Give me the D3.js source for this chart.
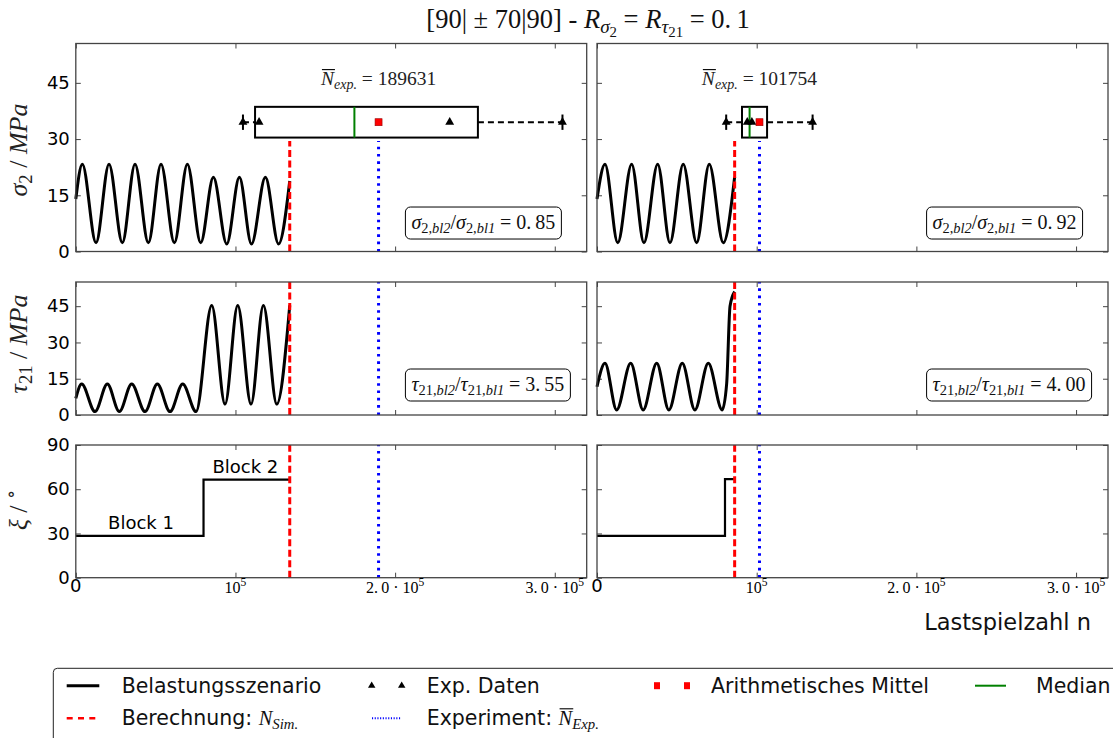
<html>
<head>
	<meta charset="utf-8">
	<style>
		body { margin: 0; background: #fff; }
		svg { display: block; }
		text { white-space: pre; }
		.tick line { stroke: #444; stroke-width: 1; }
		.frame { fill: none; stroke: #444; stroke-width: 1.3; }
	</style>
</head>
<body>
	<script src="https://d3js.org/d3.v7.min.js" charset="utf-8"></script>
	<script>
	// axis ticks
	var nTicks = [0, 1e5, 2e5, 3e5];
	var sigmaTicks = [0, 15, 30, 45];
	var tauTicks = [0, 15, 30, 45];
	var xiTicks = [0, 30, 60, 90];

	// left column: load scenario [n, MPa] (start, peaks, troughs, end)
	var sigmaLeft = [[0, 14], [4090, 23.3], [12660, 2.35], [20800, 23.3], [29150, 2.35], [37090, 23.3], [45440, 2.35],
		[53380, 23.3], [61730, 2.35], [69880, 23.3], [78240, 2.35], [86170, 19.8], [94530, 2.0], [102460, 19.8],
		[110030, 2.0], [118750, 19.8], [127000, 2.0], [134000, 18.8]];
	var tauLeft = [[0, 6.9], [3680, 12.8], [12030, 1.4], [19760, 12.8], [27270, 1.4], [35010, 12.8], [43360, 1.4],
		[51080, 12.8], [59020, 1.4], [66960, 12.8], [75310, 1.4], [85130, 45.3], [93480, 4.5], [101420, 45.3],
		[109770, 4.5], [117500, 45.3], [125900, 4.5], [134000, 45.3]];
	var xiLeft = [[0, 28.3], [80000, 66.5], [134000, 66.5]];
	var expLeft = [104700, 114800, 234200, 304824];

	// right column
	var sigmaRight = [[0, 14], [5000, 23.3], [13000, 2.35], [21700, 23.3], [29400, 2.35], [38000, 23.3], [45700, 2.35],
		[54000, 23.3], [62400, 2.35], [70300, 23.3], [79100, 2.35], [86200, 19.9]];
	var tauRight = [[0, 11.7], [5000, 21.4], [12300, 2.1], [21100, 21.4], [28900, 2.1], [37400, 21.4], [45000, 2.1],
		[53400, 21.4], [61300, 2.1], [69700, 21.4], [78400, 2.1], [81200, 13], [83300, 45], [86200, 51]];
	var xiRight = [[0, 28.3], [80150, 66.8], [86200, 66.8]];
	var expRight = [80900, 94100, 97000, 135016];

	var nSim = [134000, 86200];
	var nExpMean = [189631, 101754];
	var sigmaRatio = ["0.85", "0.92"];
	var tauRatio = ["3.55", "4.00"];

	var cols = [
		{sigma: sigmaLeft, tau: tauLeft, xi: xiLeft, exp: expLeft, nSim: nSim[0], nExp: nExpMean[0], sr: sigmaRatio[0], tr: tauRatio[0]},
		{sigma: sigmaRight, tau: tauRight, xi: xiRight, exp: expRight, nSim: nSim[1], nExp: nExpMean[1], sr: sigmaRatio[1], tr: tauRatio[1]}
	];

	var SERIF = "'Liberation Serif', 'DejaVu Serif', serif";
	var SANS = "'DejaVu Sans', sans-serif";

	var svg = d3.select("body").append("svg")
		.attr("width", 1113)
		.attr("height", 738);

	// text with sub/superscripts; parts: [string, "i"|"r", level(0, 1 sub, 2 subsub, -1 sup), overline]
	function mathText(g, parts, size, family) {
		var t = g.append("text").style("font-family", family || SERIF).style("font-size", size + "px");
		var prev = 0, idx = 0, bars = [];
		parts.forEach(function (p) {
			var lv = p[2] || 0;
			var fs = lv === 0 ? size : (Math.abs(lv) === 1 ? size * 0.72 : size * 0.56);
			var off = lv === 0 ? 0 : lv === 1 ? size * 0.2 : lv === 2 ? size * 0.34 : -size * 0.4;
			t.append("tspan")
				.attr("dy", off - prev)
				.style("font-size", fs + "px")
				.style("font-style", p[1] === "i" ? "italic" : "normal")
				.text(p[0]);
			if (p[3]) bars.push(idx);
			idx += p[0].length;
			prev = off;
		});
		t.bars = bars;
		return t;
	}
	function overline(g, t) {
		t.bars.forEach(function (i) {
			var e = t.node().getExtentOfChar(i);
			g.append("line")
				.attr("x1", e.x + 1).attr("x2", e.x + e.width + 1)
				.attr("y1", e.y + 1.5).attr("y2", e.y + 1.5)
				.attr("stroke", "#000").attr("stroke-width", 1.1);
		});
	}

	var colX = [[75.8, 586.7], [597, 1108]];
	var rowY = [[43.5, 251.5], [282, 415], [445, 577.7]];
	var rowDom = [[0, 55.5], [0, 55], [0, 90]];
	var rowTicks = [sigmaTicks, tauTicks, xiTicks];

	cols.forEach(function (col, c) {
		var x = d3.scaleLinear().domain([0, 320000]).range(colX[c]);

		rowY.forEach(function (ry, r) {
			var y = d3.scaleLinear().domain(rowDom[r]).range([ry[1], ry[0]]);
			var g = svg.append("g");

			// inward ticks on all four sides
			g.append("g").attr("transform", "translate(0," + ry[1] + ")")
				.call(d3.axisBottom(x).tickValues(nTicks).tickSize(-5).tickSizeOuter(0).tickFormat(""));
			g.append("g").attr("transform", "translate(0," + ry[0] + ")")
				.call(d3.axisTop(x).tickValues(nTicks).tickSize(-5).tickSizeOuter(0).tickFormat(""));
			var yl = g.append("g").attr("transform", "translate(" + colX[c][0] + ",0)")
				.call(d3.axisLeft(y).tickValues(rowTicks[r]).tickSize(-5).tickSizeOuter(0).tickPadding(6)
					.tickFormat(c === 0 ? d3.format("d") : ""));
			yl.selectAll("text").style("font-family", SANS).style("font-size", "18px").attr("fill", "#000");
			g.append("g").attr("transform", "translate(" + colX[c][1] + ",0)")
				.call(d3.axisRight(y).tickValues(rowTicks[r]).tickSize(-5).tickSizeOuter(0).tickFormat(""));
			g.selectAll(".domain").remove();

			// load scenario
			var line = d3.line().x(function (d) { return x(d[0]); }).y(function (d) { return y(d[1]); });
			if (r < 2) {
				g.append("path").datum(r === 0 ? col.sigma : col.tau)
					.attr("d", line.curve(d3.curveMonotoneX))
					.attr("fill", "none").attr("stroke", "#000").attr("stroke-width", 3);
			} else {
				g.append("path").datum(col.xi)
					.attr("d", line.curve(d3.curveStepAfter))
					.attr("fill", "none").attr("stroke", "#000").attr("stroke-width", 2.2);
			}

			// simulation / experiment lines
			var yTop = r === 0 ? y(29.5) : ry[0];
			g.append("line")
				.attr("x1", x(col.nSim)).attr("x2", x(col.nSim))
				.attr("y1", ry[1]).attr("y2", yTop)
				.attr("stroke", "#ff0000").attr("stroke-width", 3).attr("stroke-dasharray", "7,3.5");
			g.append("line")
				.attr("x1", x(col.nExp)).attr("x2", x(col.nExp))
				.attr("y1", ry[1]).attr("y2", yTop)
				.attr("stroke", "#0000ff").attr("stroke-width", 3).attr("stroke-dasharray", "2.6,4.7");

			if (r === 0) {
				// horizontal box plot of the experimental lives
				var s = col.exp.slice().sort(d3.ascending);
				var q1 = d3.quantile(s, 0.25), med = d3.quantile(s, 0.5), q3 = d3.quantile(s, 0.75);
				var mean = d3.mean(s);
				var yc = y(34.5), hb = y(30.4) - yc, hc = hb / 2;
				g.append("line").attr("x1", x(s[0])).attr("x2", x(q1)).attr("y1", yc).attr("y2", yc)
					.attr("stroke", "#000").attr("stroke-width", 2).attr("stroke-dasharray", "6,4");
				g.append("line").attr("x1", x(q3)).attr("x2", x(s[s.length - 1])).attr("y1", yc).attr("y2", yc)
					.attr("stroke", "#000").attr("stroke-width", 2).attr("stroke-dasharray", "6,4");
				[s[0], s[s.length - 1]].forEach(function (v) {
					g.append("line").attr("x1", x(v)).attr("x2", x(v)).attr("y1", yc - hc).attr("y2", yc + hc)
						.attr("stroke", "#000").attr("stroke-width", 2);
				});
				g.append("rect").attr("x", x(q1)).attr("y", yc - hb).attr("width", x(q3) - x(q1)).attr("height", 2 * hb)
					.attr("fill", "none").attr("stroke", "#000").attr("stroke-width", 2);
				g.append("line").attr("x1", x(med)).attr("x2", x(med)).attr("y1", yc - hb).attr("y2", yc + hb)
					.attr("stroke", "#008000").attr("stroke-width", 2);
				g.selectAll(".pt").data(s).enter().append("path")
					.attr("transform", function (d) { return "translate(" + x(d) + "," + yc + ")"; })
					.attr("d", d3.symbol(d3.symbolTriangle).size(34))
					.attr("fill", "#000");
				g.append("rect").attr("x", x(mean) - 3.5).attr("y", yc - 3.5).attr("width", 7).attr("height", 7)
					.attr("fill", "#ff0000").attr("stroke", "#900").attr("stroke-width", 0.6);

				var nt = mathText(g, [["N", "i", 0, true], ["exp.", "i", 1], [" = " + d3.format("d")(col.nExp), "r"]], 19.5)
					.attr("x", x(col.nExp)).attr("y", y(44.4)).attr("text-anchor", "middle").attr("fill", "#222");
				overline(g, nt);
			}

			// ratio annotation
			if (r < 2) {
				var parts = r === 0
					? [["σ", "i"], ["2,", "r", 1], ["bl2", "i", 1], ["/", "r"], ["σ", "i"], ["2,", "r", 1], ["bl1", "i", 1], [" = " + col.sr.replace(".", ".\u2009"), "r"]]
					: [["τ", "i"], ["21,", "r", 1], ["bl2", "i", 1], ["/", "r"], ["τ", "i"], ["21,", "r", 1], ["bl1", "i", 1], [" = " + col.tr.replace(".", ".\u2009"), "r"]];
				var ty = r === 0 ? y(7.6) : y(12.4);
				var ab = g.append("g");
				var at = mathText(ab, parts, 20).attr("x", colX[c][0] + 335.6).attr("y", ty + 6).attr("fill", "#111");
				var bb = at.node().getBBox();
				ab.insert("rect", "text")
					.attr("x", bb.x - 6).attr("y", ty - 16).attr("width", bb.width + 12).attr("height", 32)
					.attr("rx", 5).attr("fill", "#fff").attr("stroke", "#000").attr("stroke-width", 1);
			}

			g.append("rect").attr("class", "frame")
				.attr("x", colX[c][0]).attr("y", ry[0])
				.attr("width", colX[c][1] - colX[c][0]).attr("height", ry[1] - ry[0]);

			// x tick labels on the bottom row
			if (r === 2) {
				nTicks.forEach(function (t) {
					var lab;
					if (t === 0) {
						lab = g.append("text").text("0").style("font-family", SANS).style("font-size", "18px")
							.attr("y", ry[1] + 14.5);
					} else if (t === 1e5) {
						lab = mathText(g, [["10", "r"], ["5", "r", -1]], 16).attr("y", ry[1] + 15);
					} else {
						lab = mathText(g, [[(t / 1e5).toFixed(1).replace(".", ".\u2009") + " \u00b7 10", "r"], ["5", "r", -1]], 16).attr("y", ry[1] + 15);
					}
					lab.attr("x", x(t)).attr("text-anchor", "middle").attr("fill", "#000");
				});
			}

			if (r === 2 && c === 0) {
				g.append("text").text("Block 1").attr("x", x(20200)).attr("y", y(33.2))
					.style("font-family", SANS).style("font-size", "18px");
				g.append("text").text("Block 2").attr("x", x(85600)).attr("y", y(71.2))
					.style("font-family", SANS).style("font-size", "18px");
			}
		});
	});

	// y labels
	var ylabs = [
		{y: 150, parts: [["σ", "i"], ["2", "r", 1], [" / ", "r"], ["MPa", "i"]]},
		{y: 344, parts: [["τ", "i"], ["21", "r", 1], [" / ", "r"], ["MPa", "i"]]},
		{y: 510, parts: [["ξ", "i"], [" / ", "r"], ["∘", "r", -1]]}
	];
	ylabs.forEach(function (d) {
		var gg = svg.append("g").attr("transform", "translate(27," + d.y + ") rotate(-90)");
		mathText(gg, d.parts, 26).attr("text-anchor", "middle").attr("fill", "#222");
	});

	// title
	var tg = svg.append("g");
	mathText(tg, [["[90| ± 70|90] - ", "r"], ["R", "i"], ["σ", "i", 1], ["2", "r", 2], [" = ", "r"], ["R", "i"],
		["τ", "i", 1], ["21", "r", 2], [" = 0.\u20091", "r"]], 26.5)
		.attr("x", 588).attr("y", 28).attr("text-anchor", "middle").attr("fill", "#111");

	svg.append("text").text("Lastspielzahl n").attr("x", 1091).attr("y", 630).attr("text-anchor", "end")
		.style("font-family", SANS).style("font-size", "22.5px").attr("fill", "#111");

	// legend
	var lg = svg.append("g");
	lg.append("rect").attr("x", 53.3).attr("y", 668.3).attr("width", 1100).attr("height", 100).attr("rx", 4)
		.attr("fill", "#fff").attr("stroke", "#222").attr("stroke-width", 1);
	var r1 = 685.7, r2 = 718.3;
	lg.append("line").attr("x1", 66.7).attr("x2", 99.3).attr("y1", r1).attr("y2", r1).attr("stroke", "#000").attr("stroke-width", 3);
	lg.append("line").attr("x1", 66.7).attr("x2", 99.3).attr("y1", r2).attr("y2", r2).attr("stroke", "#ff0000")
		.attr("stroke-width", 2.5).attr("stroke-dasharray", "6,5.3");
	[371.7, 401.7].forEach(function (px) {
		lg.append("path").attr("transform", "translate(" + px + "," + r1 + ")")
			.attr("d", d3.symbol(d3.symbolTriangle).size(24)).attr("fill", "#000");
	});
	lg.append("line").attr("x1", 372).attr("x2", 401).attr("y1", r2).attr("y2", r2).attr("stroke", "#0000ff")
		.attr("stroke-width", 2).attr("stroke-dasharray", "1.1,1.6");
	[657, 687].forEach(function (px) {
		lg.append("rect").attr("x", px - 3).attr("y", r1 - 3.5).attr("width", 6).attr("height", 7).attr("fill", "#ff0000");
	});
	lg.append("line").attr("x1", 975).attr("x2", 1006).attr("y1", r1).attr("y2", r1).attr("stroke", "#008000").attr("stroke-width", 2);

	function legText(px, py, parts) {
		var t = mathText(lg, parts, 20.5, SANS).attr("x", px).attr("y", py + 7).attr("fill", "#111");
		t.selectAll("tspan").filter(function (d, i) { return i > 0; }).style("font-family", SERIF);
		return t;
	}
	legText(121.7, r1, [["Belastungsszenario", "r"]]);
	legText(426.7, r1, [["Exp. Daten", "r"]]);
	legText(711, r1, [["Arithmetisches Mittel", "r"]]);
	legText(1036, r1, [["Median", "r"]]);
	legText(121.7, r2, [["Berechnung: ", "r"], ["N", "i"], ["Sim.", "i", 1]]);
	var et = legText(426.7, r2, [["Experiment: ", "r"], ["N", "i", 0, true], ["Exp.", "i", 1]]);
	overline(lg, et);
	</script>
</body>
</html>
